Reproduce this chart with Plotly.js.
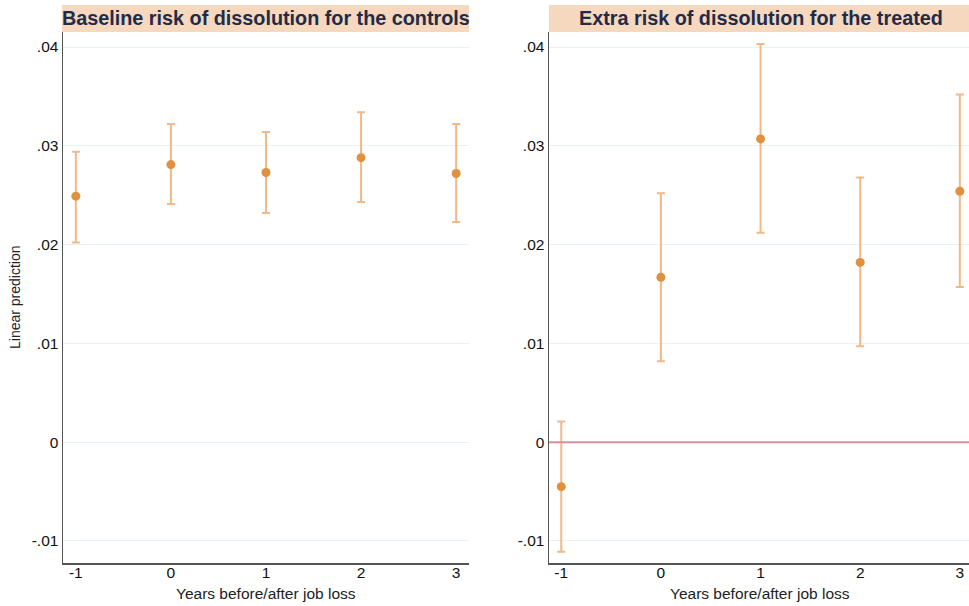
<!DOCTYPE html>
<html>
<head>
<meta charset="utf-8">
<script src="https://cdn.plot.ly/plotly-3.0.1.min.js"></script>
<style>html,body{margin:0;padding:0;background:#fff;}#chart{width:969px;height:606px;}</style>
</head>
<body>
<div id="chart"></div>
<script>
// Data
var years = [-1, 0, 1, 2, 3];
var xTickText = ["-1", "0", "1", "2", "3"];
var yTickVals = [-0.01, 0, 0.01, 0.02, 0.03, 0.04];
var yTickText = ["-.01", "0", ".01", ".02", ".03", ".04"];

var ctrlEst = [0.0249, 0.0281, 0.0273, 0.0288, 0.0272];
var ctrlLo  = [0.0202, 0.0241, 0.0232, 0.0243, 0.0223];
var ctrlHi  = [0.0294, 0.0322, 0.0314, 0.0334, 0.0322];

var trtEst = [-0.0045, 0.0167, 0.0307, 0.0182, 0.0254];
var trtLo  = [-0.0111, 0.0082, 0.0212, 0.0097, 0.0157];
var trtHi  = [0.0021, 0.0252, 0.0403, 0.0268, 0.0352];

var panelTitles = ["Baseline risk of dissolution for the controls", "Extra risk of dissolution for the treated"];
var xTitle = "Years before/after job loss";
var yTitle = "Linear prediction";

var W = 969, H = 606;
function px(x){ return x / W; }
function py(y){ return 1 - y / H; }

var markerColor = "#e0913f";
var barColor = "#f2b887";

function mk(est, lo, hi, xa, ya){
  return {
    x: years, y: est, type: "scatter", mode: "markers",
    xaxis: xa, yaxis: ya,
    marker: {color: markerColor, size: 9},
    error_y: {
      type: "data", symmetric: false,
      array: est.map(function(v,i){ return hi[i]-v; }),
      arrayminus: est.map(function(v,i){ return v-lo[i]; }),
      color: barColor, thickness: 2, width: 4
    },
    hoverinfo: "x+y", showlegend: false
  };
}

var traces = [mk(ctrlEst, ctrlLo, ctrlHi, "x", "y"), mk(trtEst, trtLo, trtHi, "x2", "y2")];

var yRange = [-0.01223, 0.04152];
var fam = "Liberation Sans, Arial, sans-serif";
var font = {family: fam, size: 15.5, color: "#111"};

function yax(anchor){
  return {
    domain: [py(563), py(32)], anchor: anchor, range: yRange,
    tickvals: yTickVals, ticktext: yTickText, ticks: "", ticklen: 0,
    showgrid: true, gridcolor: "#e9f1f2", gridwidth: 1, zeroline: false,
    showline: true, linecolor: "#555", linewidth: 1.5,
    tickfont: font, automargin: false
  };
}
function xax(anchor, dom, range){
  return {
    domain: dom, anchor: anchor, range: range,
    tickvals: years, ticktext: xTickText, ticks: "", ticklen: 0, ticklabelstandoff: -5,
    showgrid: false, zeroline: false,
    showline: true, linecolor: "#555", linewidth: 1.5,
    tickfont: font, automargin: false
  };
}

var layout = {
  width: W, height: H,
  margin: {l: 0, r: 0, t: 0, b: 0},
  paper_bgcolor: "#fff", plot_bgcolor: "#fff",
  font: font,
  showlegend: false,
  xaxis: xax("y", [px(63), px(469)], [-1.135, 3.135]),
  yaxis: yax("x"),
  xaxis2: xax("y2", [px(549), 1], [-1.123, 3.092]),
  yaxis2: yax("x2"),
  shapes: [
    {type: "rect", xref: "paper", yref: "paper", x0: px(62), x1: px(469), y0: py(32), y1: py(5),
     fillcolor: "#f5d8be", line: {width: 0}, layer: "below"},
    {type: "rect", xref: "paper", yref: "paper", x0: px(549), x1: 1, y0: py(32), y1: py(5),
     fillcolor: "#f5d8be", line: {width: 0}, layer: "below"},
    {type: "line", xref: "x2 domain", yref: "y2", x0: 0, x1: 1, y0: 0, y1: 0,
     line: {color: "#d9909a", width: 2}}
  ],
  annotations: [
    {text: "<b>" + panelTitles[0] + "</b>", xref: "paper", yref: "paper", x: px(266), y: py(18.5),
     xanchor: "center", yanchor: "middle", showarrow: false,
     font: {family: fam, size: 19.8, color: "#1f2b4b"}},
    {text: "<b>" + panelTitles[1] + "</b>", xref: "paper", yref: "paper", x: px(761), y: py(18.5),
     xanchor: "center", yanchor: "middle", showarrow: false,
     font: {family: fam, size: 19.8, color: "#1f2b4b"}},
    {text: xTitle, xref: "paper", yref: "paper", x: px(266), y: py(593),
     xanchor: "center", yanchor: "middle", showarrow: false, font: {family: fam, size: 15.5, color: "#222"}},
    {text: xTitle, xref: "paper", yref: "paper", x: px(760), y: py(593),
     xanchor: "center", yanchor: "middle", showarrow: false, font: {family: fam, size: 15.5, color: "#222"}},
    {text: yTitle, xref: "paper", yref: "paper", x: px(15), y: py(297), textangle: -90,
     xanchor: "center", yanchor: "middle", showarrow: false, font: {family: fam, size: 14, color: "#222"}}
  ]
};

Plotly.newPlot("chart", traces, layout, {displayModeBar: false, staticPlot: true});
</script>
</body>
</html>
